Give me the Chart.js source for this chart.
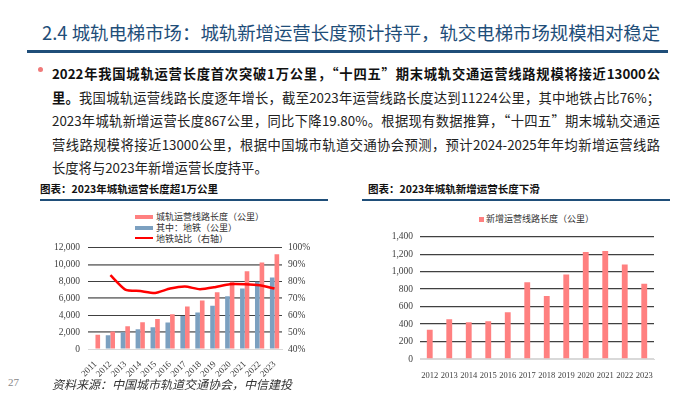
<!DOCTYPE html>
<html>
<head>
<meta charset="utf-8">
<script src="https://cdn.jsdelivr.net/npm/chart.js@4.4.1/dist/chart.umd.min.js"></script>
<style>
  html, body { margin: 0; padding: 0; background: #fff; }
  body { width: 700px; height: 394px; position: relative; overflow: hidden; font-family: "Noto Sans CJK SC", "Noto Sans", sans-serif; }
  .abs { position: absolute; white-space: nowrap; }
  #title { left: 42px; top: 20px; font-size: 18.4px; color: #1F4E79; line-height: 25px; }
  #titleLine { left: 27px; top: 50px; width: 641px; height: 3px; background: #1F4E79; }
  #bullet { left: 38px; top: 67px; width: 5px; height: 5px; border-radius: 50%; background: #F07A7A; }
  .para { position: absolute; left: 52px; width: 608px; font-size: 13.3px; line-height: 18px; color: #222; white-space: nowrap; text-align: justify; text-align-last: justify; }
  .para b { font-weight: bold; color: #111; }
  .sub { position: absolute; top: 181px; font-size: 10.5px; font-weight: bold; color: #111; white-space: nowrap; }
  .subLine { position: absolute; top: 199px; height: 2px; background: #1F4E79; }
  .leg { position: absolute; font-size: 9px; color: #333; white-space: nowrap; line-height: 12px; }
  .sw { position: absolute; }
  #src { left: 52px; top: 375px; font-size: 12px; font-style: italic; color: #333; }
  #pg { left: 8px; top: 376px; font-size: 11px; color: #888; font-family: "Liberation Serif", serif; }
  .cv { position: absolute; }
</style>
</head>
<body>
<div class="abs" id="title">2.4 城轨电梯市场：城轨新增运营长度预计持平，轨交电梯市场规模相对稳定</div>
<div class="abs" id="titleLine"></div>
<div class="abs" id="bullet"></div>
<div class="para" style="top:65px"><b>2022年我国城轨运营长度首次突破1万公里，“十四五”期末城轨交通运营线路规模将接近13000公</b></div>
<div class="para" style="top:89px"><b>里。</b>我国城轨运营线路长度逐年增长，截至2023年运营线路长度达到11224公里，其中地铁占比76%；</div>
<div class="para" style="top:112px">2023年城轨新增运营长度867公里，同比下降19.80%。根据现有数据推算，“十四五”期末城轨交通运</div>
<div class="para" style="top:136px">营线路规模将接近13000公里，根据中国城市轨道交通协会预测，预计2024-2025年年均新增运营线路</div>
<div class="para" style="top:159px;text-align:left;text-align-last:left;width:auto">长度将与2023年新增运营长度持平。</div>

<div class="sub" style="left:40px">图表：2023年城轨运营长度超1万公里</div>
<div class="subLine" style="left:40px;width:288px"></div>
<div class="sub" style="left:368px">图表：2023年城轨新增运营长度下滑</div>
<div class="subLine" style="left:362px;width:308px"></div>

<div class="sw" style="left:135px;top:215px;width:18px;height:4px;background:#FF8080"></div>
<div class="leg" style="left:156px;top:211px">城轨运营线路长度（公里）</div>
<div class="sw" style="left:135px;top:226px;width:18px;height:4px;background:#7CA0C0"></div>
<div class="leg" style="left:156px;top:222px">其中：地铁（公里）</div>
<div class="sw" style="left:135px;top:237px;width:18px;height:2px;background:#FF0000"></div>
<div class="leg" style="left:156px;top:233px">地铁站比（右轴）</div>

<div class="sw" style="left:479px;top:217px;width:5px;height:5px;background:#FF8080"></div>
<div class="leg" style="left:486px;top:213px">新增运营线路长度（公里）</div>

<div class="cv" style="left:30px;top:234px"><canvas id="chartLeft" width="290" height="144"></canvas></div>
<div class="cv" style="left:370px;top:224px"><canvas id="chartRight" width="300" height="156"></canvas></div>

<div class="abs" id="pg">27</div>
<div class="abs" id="src">资料来源：中国城市轨道交通协会，中信建投</div>

<script>
// 左图：城轨运营线路长度、地铁长度、地铁占比
var years1 = ['2011','2012','2013','2014','2015','2016','2017','2018','2019','2020','2021','2022','2023'];
var totalLen = [1700, 2060, 2700, 3170, 3540, 4130, 5030, 5760, 6730, 7970, 9200, 10250, 11220];
var metroLen = [null, 1620, 1980, 2340, 2580, 3130, 3920, 4320, 5110, 6260, 7170, 7960, 8480];
var metroRatio = [null, 83.8, 75.2, 74.3, 73.2, 75.8, 77.0, 75.4, 76.6, 78.4, 78.4, 77.8, 75.8];

// 右图：新增运营线路长度
var years2 = ['2012','2013','2014','2015','2016','2017','2018','2019','2020','2021','2022','2023'];
var newLen = [335, 455, 420, 432, 535, 880, 722, 968, 1226, 1236, 1082, 862];

var tickFont = { family: 'Liberation Serif', size: 9.5 };
var tickColor = '#404040';

chartLeft = new Chart(document.getElementById('chartLeft'), {
    type: 'bar',
    data: {
        labels: years1,
        datasets: [{
            type: 'line',
            label: '地铁站比（右轴）',
            data: metroRatio,
            yAxisID: 'y1',
            borderColor: '#FF0000',
            borderWidth: 2.5,
            pointRadius: 0,
            tension: 0.2,
            order: 0
        }, {
            label: '城轨运营线路长度（公里）',
            data: totalLen,
            backgroundColor: '#FF8080',
            yAxisID: 'y',
            order: 2
        }, {
            label: '其中：地铁（公里）',
            data: metroLen,
            backgroundColor: '#7CA0C0',
            yAxisID: 'y',
            order: 1
        }]
    },
    options: {
        responsive: false,
        animation: false,
        layout: { padding: { top: 6, right: 0, left: 0, bottom: 0 } },
        plugins: { legend: { display: false }, tooltip: { enabled: false } },
        datasets: { bar: { categoryPercentage: 0.62, barPercentage: 1 } },
        scales: {
            x: {
                grid: { display: false },
                border: { color: '#d9d9d9' },
                ticks: { font: { family: 'Liberation Serif', size: 9 }, color: tickColor, minRotation: 45, maxRotation: 45, autoSkip: false, padding: 2 },
                afterFit: function(axis) { axis.height = 29; }
            },
            y: {
                position: 'left',
                min: 0, max: 12000,
                ticks: {
                    stepSize: 2000, font: tickFont, color: tickColor, padding: 8,
                    callback: function(v) { return v.toLocaleString('en-US'); }
                },
                grid: {
                    drawTicks: false,
                    color: function(c) {
                        if (c.tick && c.tick.value === 0) return '#d9d9d9';
                        return (c.index % 2 === 0) ? '#404040' : '#7f7f7f';
                    },
                    lineWidth: function(c) { return (c.index % 2 === 0) ? 1 : 1.8; }
                },
                border: { display: false },
                afterFit: function(axis) { axis.width = 58; }
            },
            y1: {
                position: 'right',
                min: 40, max: 100,
                ticks: {
                    stepSize: 10, font: tickFont, color: tickColor, padding: 6,
                    callback: function(v) { return v + '%'; }
                },
                grid: { display: false, drawTicks: false },
                border: { display: false },
                afterFit: function(axis) { axis.width = 38; }
            }
        }
    }
});

chartRight = new Chart(document.getElementById('chartRight'), {
    type: 'bar',
    data: {
        labels: years2,
        datasets: [{
            label: '新增运营线路长度（公里）',
            data: newLen,
            backgroundColor: '#FF8080',
            categoryPercentage: 0.3,
            barPercentage: 1
        }]
    },
    options: {
        responsive: false,
        animation: false,
        layout: { padding: { top: 7, right: 16, left: 0, bottom: 0 } },
        plugins: { legend: { display: false }, tooltip: { enabled: false } },
        scales: {
            x: {
                grid: { display: false },
                border: { color: '#d9d9d9' },
                ticks: { font: { family: 'Liberation Serif', size: 8.5 }, color: tickColor, maxRotation: 0, autoSkip: false, padding: 4 },
                afterFit: function(axis) { axis.height = 21; }
            },
            y: {
                min: 0, max: 1400,
                ticks: {
                    stepSize: 200, font: tickFont, color: tickColor, padding: 7,
                    callback: function(v) { return v.toLocaleString('en-US'); }
                },
                grid: {
                    drawTicks: false,
                    color: function(c) { return (c.tick && c.tick.value === 0) ? '#d9d9d9' : '#404040'; },
                    lineWidth: 1.3
                },
                border: { display: false },
                afterFit: function(axis) { axis.width = 50; }
            }
        }
    }
});
</script>
</body>
</html>
